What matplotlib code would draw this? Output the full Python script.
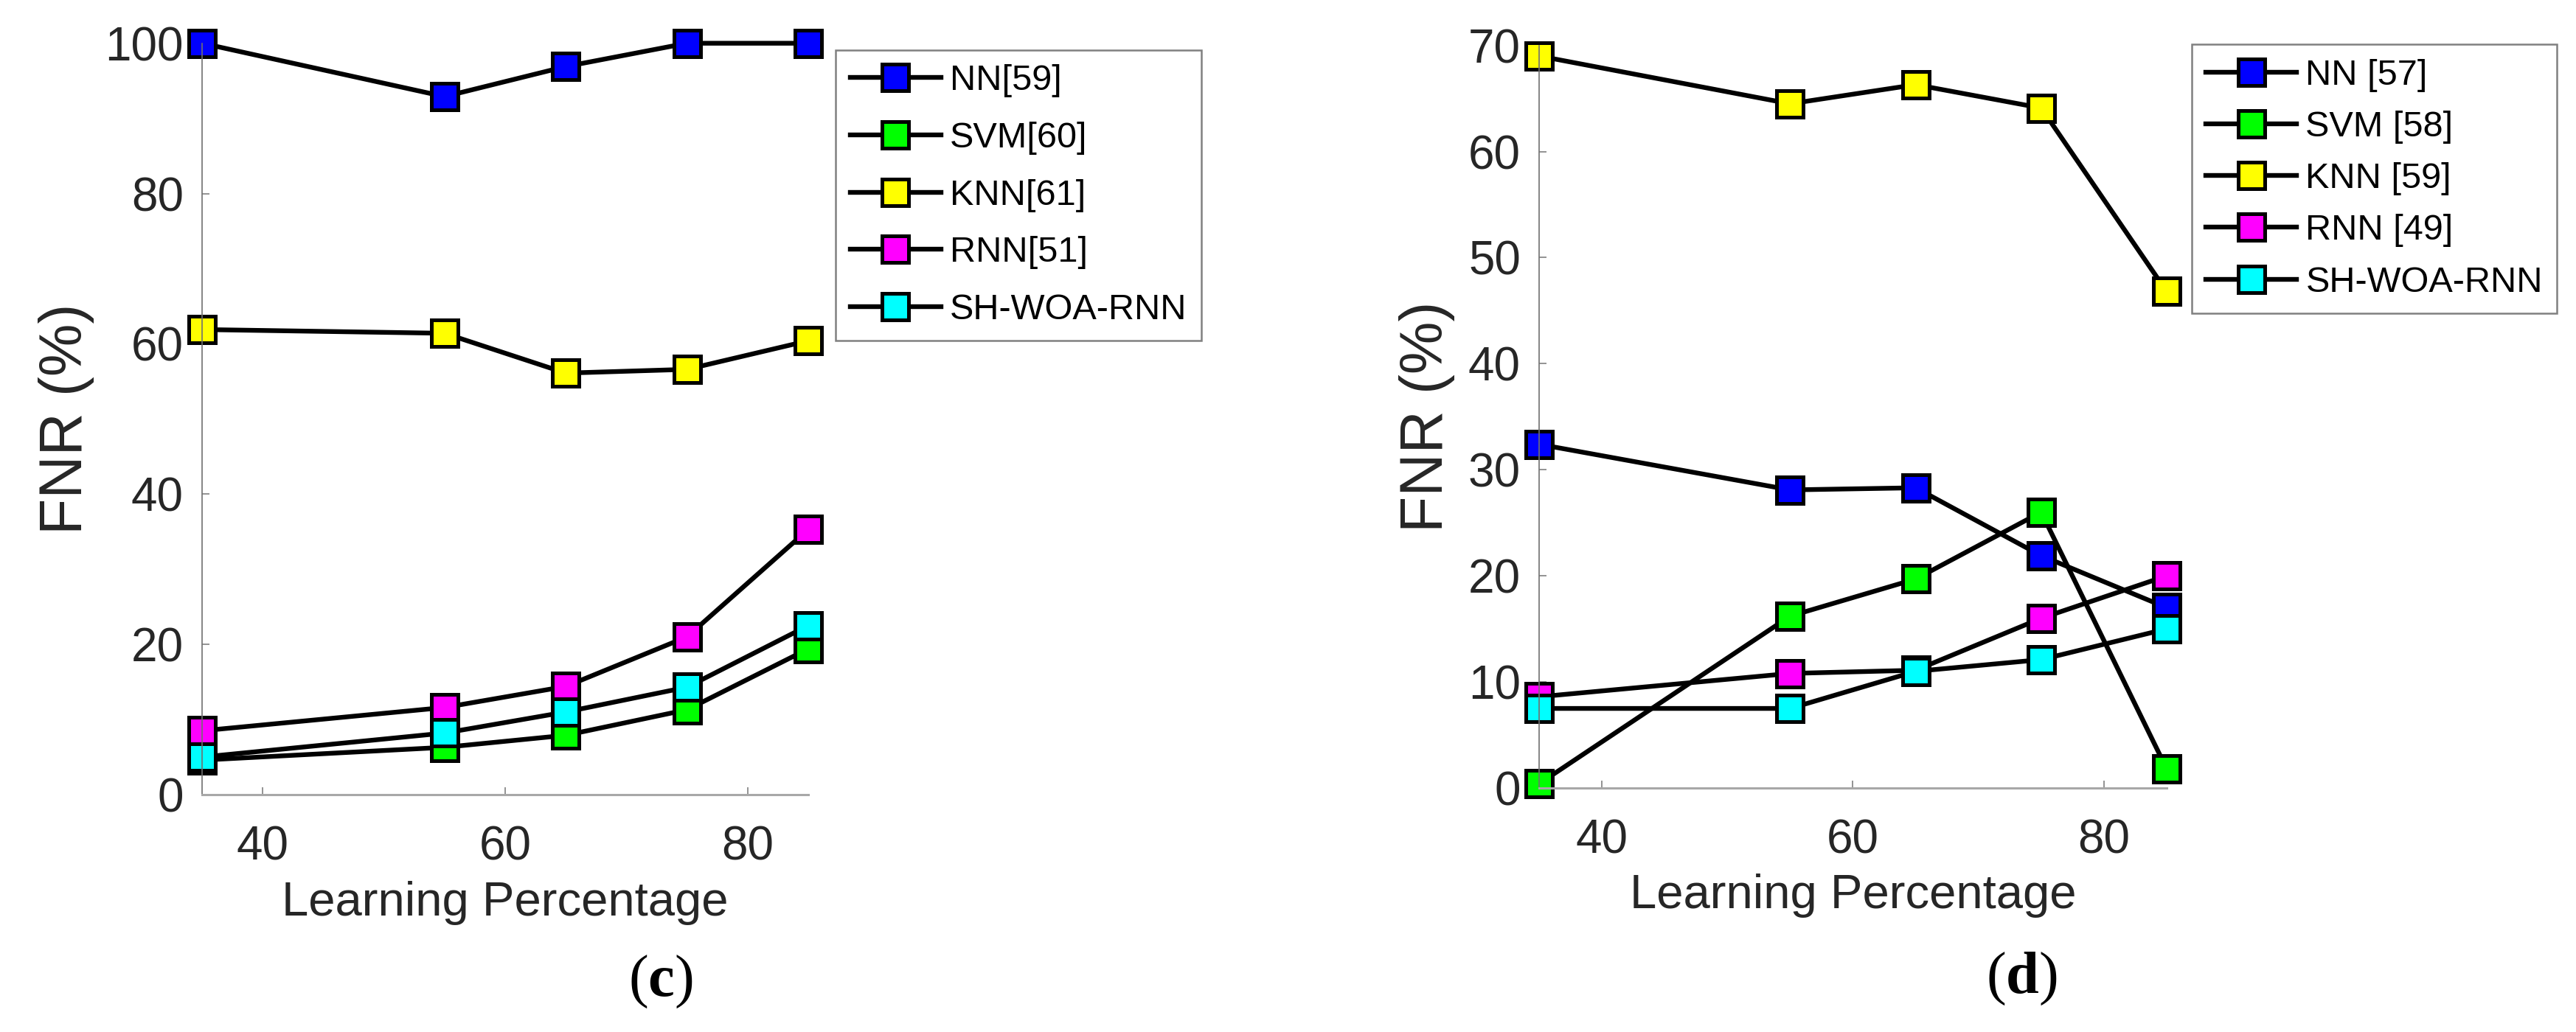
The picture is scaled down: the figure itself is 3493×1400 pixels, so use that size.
import matplotlib
matplotlib.use("Agg")
import matplotlib.pyplot as plt

plt.rcParams['font.family'] = ['Liberation Sans', 'DejaVu Sans']
plt.rcParams['mathtext.fontset'] = 'custom'
plt.rcParams['mathtext.rm'] = 'Liberation Serif'
plt.rcParams['mathtext.bf'] = 'Liberation Serif:bold'

# learning percentage (x)
lp = [35, 55, 65, 75, 85]

# panel (c)
c_labels = ['NN[59]', 'SVM[60]', 'KNN[61]', 'RNN[51]', 'SH-WOA-RNN']
c_nn = [100, 92.9, 96.9, 100, 100]
c_svm = [4.6, 6.3, 7.9, 11.3, 19.4]
c_knn = [61.9, 61.4, 56.1, 56.6, 60.4]
c_rnn = [8.5, 11.6, 14.4, 21.0, 35.3]
c_sh = [5.0, 8.2, 11.0, 14.3, 22.5]

# panel (d)
d_labels = ['NN [57]', 'SVM [58]', 'KNN [59]', 'RNN [49]', 'SH-WOA-RNN']
d_nn = [32.4, 28.1, 28.3, 21.9, 17.0]
d_svm = [0.4, 16.2, 19.7, 26.0, 1.8]
d_knn = [69.0, 64.5, 66.3, 64.1, 46.8]
d_rnn = [8.6, 10.8, 11.1, 16.0, 20.0]
d_sh = [7.5, 7.5, 11.0, 12.1, 15.0]

colors = ['#0000ff', '#00ff00', '#ffff00', '#ff00ff', '#00ffff']

fig = plt.figure(figsize=(34.93, 14), dpi=100)
ax1 = fig.add_axes([0.07844, 0.23, 0.23533, 0.7281])
ax2 = fig.add_axes([0.59748, 0.23643, 0.24363, 0.71957])


def draw(ax, series, labels, ymax, ystep, legpos, lspace, ylab_x):
    for y, lab, col in zip(series, labels, colors):
        ax.plot(lp, y, color='black', lw=4.6, marker='s', ms=25.5, mew=3.6,
                mfc=col, mec='black', label=lab, clip_on=False)
    ax.set_xlim(35, 85)
    ax.set_ylim(0, ymax)
    ax.set_xticks([40, 60, 80])
    ax.set_yticks(range(0, ymax + 1, ystep))
    for s in ['top', 'right']:
        ax.spines[s].set_visible(False)
    ax.spines['bottom'].set_color('#a8a8a8')
    ax.spines['bottom'].set_linewidth(2.2)
    ax.spines['left'].set_color('#707070')
    ax.spines['left'].set_linewidth(1.2)
    ax.tick_params(axis='both', direction='in', length=7, width=1.2,
                   colors='#808080', labelcolor='#262626', labelsize=46)
    ax.tick_params(axis='x', pad=30)
    ax.tick_params(axis='y', pad=18)
    ax.set_xlabel('Learning Percentage', fontsize=47, color='#262626')
    ax.xaxis.set_label_coords(0.5, -0.115)
    ax.set_ylabel('FNR (%)', fontsize=58, color='#262626')
    ax.yaxis.set_label_coords(ylab_x, 0.5)
    leg = fig.legend(*ax.get_legend_handles_labels(), loc='upper left',
                     bbox_to_anchor=legpos, bbox_transform=fig.transFigure,
                     fontsize=35, handlelength=2.53, handletextpad=0.25,
                     labelspacing=lspace, borderpad=0.4, borderaxespad=0,
                     fancybox=False, framealpha=1, edgecolor='#808080')
    leg.get_frame().set_linewidth(1.8)


draw(ax1, [c_nn, c_svm, c_knn, c_rnn, c_sh], c_labels, 100, 20,
     (0.3244, 0.9514), 0.67, -0.177)
draw(ax2, [d_nn, d_svm, d_knn, d_rnn, d_sh], d_labels, 70, 10,
     (0.8508, 0.957), 0.52, -0.134)

fig.text(896 / 3493, 1 - 1332 / 1400, r'$(\mathbf{c})$', fontsize=58,
         ha='center', va='center')
fig.text(2741 / 3493, 1 - 1328 / 1400, r'$(\mathbf{d})$', fontsize=58,
         ha='center', va='center')

fig.savefig('out.png', dpi=100)
